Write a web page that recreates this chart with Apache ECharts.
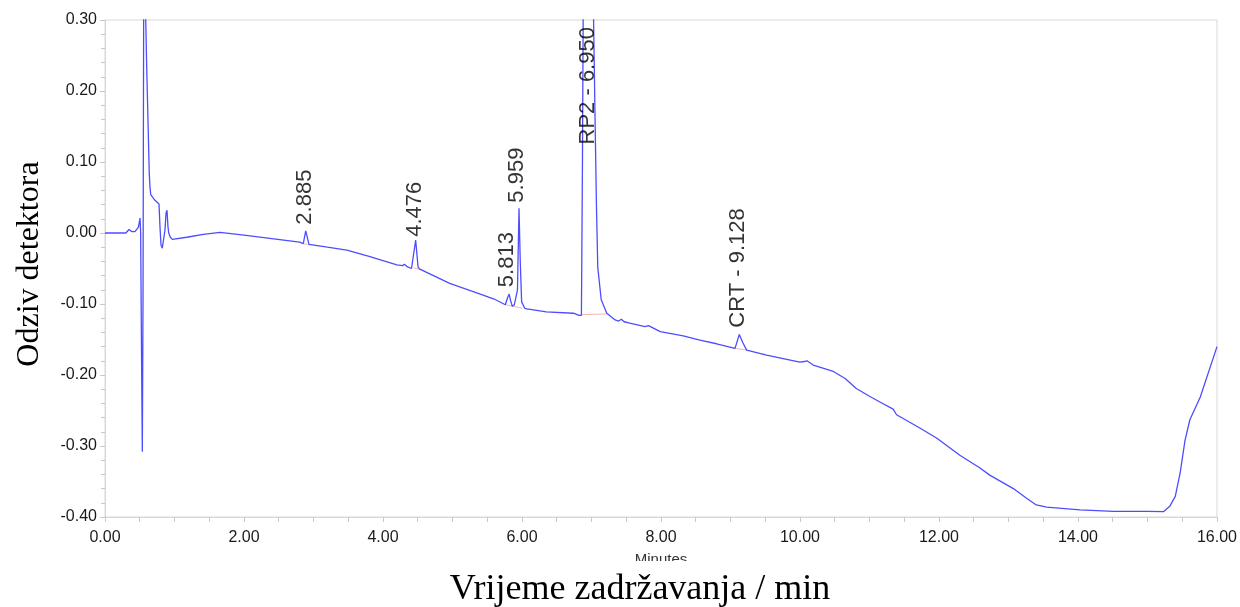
<!DOCTYPE html>
<html>
<head>
<meta charset="utf-8">
<script src="https://cdn.jsdelivr.net/npm/echarts@6/dist/echarts.min.js"></script>
<style>html,body{margin:0;padding:0;background:#fff;}#c{width:1240px;height:607px;}</style>
</head>
<body>
<div id="c"></div>
<script>
// Chromatogram trace (retention time in min, detector response)
const times = [0.00,0.30,0.312,0.345,0.384,0.43,0.456,0.48,0.504,0.513,0.527,0.537,0.547,0.556,0.565,0.60,0.623,0.637,0.647,0.658,0.695,0.719,0.744,0.777,0.791,0.806,0.824,0.845,0.863,0.878,0.892,0.906,0.917,0.925,0.94,0.968,1.176,1.414,1.655,2.0,2.4,2.8,2.853,2.888,2.935,2.96,3.2,3.48,3.8,4.2,4.28,4.31,4.34,4.41,4.436,4.47,4.505,4.53,4.96,5.40,5.60,5.76,5.79,5.815,5.835,5.86,5.89,5.935,5.957,5.975,5.995,6.04,6.07,6.35,6.74,6.82,6.855,6.87,6.885,6.95,7.00,7.03,7.05,7.07,7.09,7.14,7.22,7.34,7.39,7.43,7.47,7.55,7.77,7.82,7.89,7.99,8.32,8.56,8.80,9.065,9.127,9.18,9.233,9.52,9.86,10.0,10.06,10.10,10.19,10.48,10.65,10.81,11.0,11.15,11.34,11.39,11.73,11.97,12.30,12.59,12.73,13.07,13.25,13.40,13.55,14.03,14.51,15.0,15.23,15.32,15.40,15.47,15.54,15.61,15.76,16.0];
const response = [0.000,0.000,0.001,0.005,0.002,0.002,0.002,0.008,0.021,0.000,-0.188,-0.308,-0.094,0.300,0.400,0.234,0.140,0.084,0.065,0.054,0.049,0.046,0.044,0.041,0.009,-0.017,-0.0215,-0.019,0.004,0.028,0.032,0.009,0.000,0.002,-0.006,-0.009,-0.006,-0.002,0.001,-0.003,-0.008,-0.013,-0.015,0.003,-0.016,-0.017,-0.020,-0.024,-0.033,-0.045,-0.046,-0.044,-0.047,-0.050,-0.049,-0.010,-0.048,-0.051,-0.071,-0.086,-0.093,-0.101,-0.092,-0.086,-0.095,-0.103,-0.101,-0.080,0.035,-0.040,-0.097,-0.106,-0.107,-0.111,-0.113,-0.116,-0.116,0.100,0.400,0.550,0.450,0.300,0.170,0.046,-0.048,-0.094,-0.113,-0.1225,-0.124,-0.1215,-0.125,-0.127,-0.132,-0.1305,-0.134,-0.139,-0.145,-0.151,-0.156,-0.1625,-0.143,-0.155,-0.165,-0.172,-0.179,-0.182,-0.181,-0.180,-0.186,-0.195,-0.205,-0.219,-0.230,-0.238,-0.248,-0.256,-0.275,-0.289,-0.313,-0.331,-0.341,-0.360,-0.373,-0.383,-0.386,-0.390,-0.392,-0.392,-0.3925,-0.385,-0.371,-0.338,-0.292,-0.263,-0.231,-0.160];

// Integration baselines (start/end pairs)
const baseStart = [[2.853,-0.015],[4.436,-0.049],[5.76,-0.101],[6.855,-0.115],[9.065,-0.1625]];
const baseEnd   = [[2.94,-0.0165],[4.55,-0.052],[6.01,-0.106],[7.22,-0.114],[9.233,-0.165]];

// Peak annotations
const peakTexts = ['2.885','4.476','5.813','5.959','RP2 - 6.950','CRT - 9.128'];
const peakTimes = [2.885,4.46,5.79,5.93,6.95,9.11];
const peakLabelY = [0.011,-0.006,-0.077,0.042,0.124,-0.134];

const xTicks = [0,2,4,6,8,10,12,14,16];
const yTicks = [-0.4,-0.3,-0.2,-0.1,0,0.1,0.2,0.3];

const trace = times.map((t,i)=>[t,response[i]]);
const baseData = [];
baseStart.forEach((s,i)=>{ baseData.push(s, baseEnd[i], [null,null]); });
const labelData = peakTimes.map((t,i)=>[t, peakLabelY[i], peakTexts[i]]);

const chart = echarts.init(document.getElementById('c'), null, {renderer:'canvas'});
const gridCol = '#d8d8d8';
chart.setOption({
  animation:false,
  backgroundColor:'#fff',
  grid:{left:105,right:23,top:20,bottom:90,show:true,borderColor:gridCol,borderWidth:1,backgroundColor:'transparent'},
  xAxis:{type:'value',min:xTicks[0],max:xTicks[xTicks.length-1],interval:2,
    axisLine:{show:true,onZero:false,lineStyle:{color:gridCol}},
    axisTick:{show:true,length:5,lineStyle:{color:'#c8c8c8'}},
    minorTick:{show:true,splitNumber:4,length:5,lineStyle:{color:'#c8c8c8'}},
    splitLine:{show:false},
    axisLabel:{margin:13,fontFamily:'Liberation Sans',fontSize:16,color:'#1a1a1a',formatter:v=>v.toFixed(2)}},
  yAxis:{type:'value',min:yTicks[0],max:yTicks[yTicks.length-1],interval:0.1,
    axisLine:{show:true,onZero:false,lineStyle:{color:gridCol}},
    axisTick:{show:true,length:5,lineStyle:{color:'#c8c8c8'}},
    minorTick:{show:true,splitNumber:5,length:4,lineStyle:{color:'#c8c8c8'}},
    splitLine:{show:false},
    axisLabel:{margin:8,fontFamily:'Liberation Sans',fontSize:16,color:'#1a1a1a',formatter:v=>v.toFixed(2)}},
  series:[
    {type:'line',data:baseData,showSymbol:false,connectNulls:false,silent:true,
      lineStyle:{color:'#f6b4b4',width:1},z:1},
    {type:'line',data:trace,showSymbol:false,clip:true,silent:true,
      lineStyle:{color:'#4d4dff',width:1.3},z:2},
    {type:'scatter',data:labelData,symbolSize:1,itemStyle:{color:'rgba(0,0,0,0)'},silent:true,z:3,
      label:{show:true,position:[0,0],rotate:90,align:'left',verticalAlign:'middle',
        fontFamily:'Liberation Sans',fontSize:22,color:'#000',formatter:p=>p.data[2]}}
  ],
  graphic:[
    {type:'text',x:661,y:552,z:10,style:{text:'Minutes',fontFamily:'Liberation Sans',fontSize:15,fill:'#333',align:'center',verticalAlign:'top'}},
    {type:'rect',x:600,y:561,z:11,shape:{width:130,height:20},style:{fill:'#fff'}},
    {type:'text',x:640,y:590,z:12,style:{text:'Vrijeme zadržavanja / min',fontFamily:'Liberation Serif',fontSize:36,fill:'#000',align:'center',verticalAlign:'middle'}},
    {type:'text',x:30,y:264,rotation:Math.PI/2,z:12,style:{text:'Odziv detektora',fontFamily:'Liberation Serif',fontSize:32,fill:'#000',align:'center',verticalAlign:'middle'}}
  ]
});
</script>
</body>
</html>
